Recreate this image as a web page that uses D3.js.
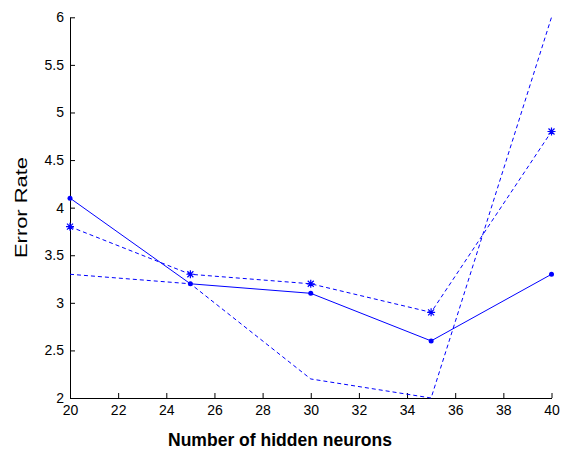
<!DOCTYPE html>
<html>
<head>
<meta charset="utf-8">
<script src="https://cdn.jsdelivr.net/npm/d3@7"></script>
<style>
	body { margin: 0; background: #fff; }
	svg { display: block; }
</style>
</head>
<body>
<svg id="chart" width="562" height="451"></svg>
<script>
// hidden neuron counts on the x axis
neurons = [20, 25, 30, 35, 40];
// error rate for each run
errSolid = [4.1, 3.2, 3.1, 2.6, 3.3];
errStar = [3.8, 3.3, 3.2, 2.9, 4.8];
errPlain = [3.3, 3.2, 2.2, 2.0, 6.0];

xTicks = [20, 22, 24, 26, 28, 30, 32, 34, 36, 38, 40];
yTicks = [2, 2.5, 3, 3.5, 4, 4.5, 5, 5.5, 6];

width = 562;
height = 451;
left = 70;
right = 551.5;
top_y = 17.3;
bottom_y = 398;
blue = '#0000ff';
tickFont = '"Liberation Sans", Arial, sans-serif';

svg = d3.select('#chart');

x = d3.scaleLinear().domain([20, 40]).range([left, right]);
y = d3.scaleLinear().domain([2, 6]).range([bottom_y, top_y]);

xAxis = svg.append('g')
	.attr('transform', `translate(0, ${bottom_y})`)
	.call(d3.axisBottom(x).tickValues(xTicks).tickSizeInner(-5).tickSizeOuter(0).tickPadding(7));
yAxis = svg.append('g')
	.attr('transform', `translate(${left}, 0)`)
	.call(d3.axisLeft(y).tickValues(yTicks).tickFormat(d3.format('')).tickSizeInner(-5).tickSizeOuter(0).tickPadding(6));

[xAxis, yAxis].forEach(function(a){
	a.attr('font-family', tickFont).attr('font-size', 14);
	a.selectAll('text').attr('fill', '#000');
	a.selectAll('line, path').attr('stroke', '#000');
});

// lines, all blue, two of them dashed
line = d3.line().x((d, i) => x(neurons[i])).y(d => y(d));

svg.append('path')
	.attr('d', line(errPlain))
	.attr('fill', 'none')
	.attr('stroke', blue)
	.attr('stroke-width', 1)
	.attr('stroke-dasharray', '4,3');

svg.append('path')
	.attr('d', line(errStar))
	.attr('fill', 'none')
	.attr('stroke', blue)
	.attr('stroke-width', 1)
	.attr('stroke-dasharray', '4,3');

svg.append('path')
	.attr('d', line(errSolid))
	.attr('fill', 'none')
	.attr('stroke', blue)
	.attr('stroke-width', 1);

// dot markers
svg.append('g').selectAll('circle')
	.data(errSolid)
	.join('circle')
		.attr('cx', (d, i) => x(neurons[i]))
		.attr('cy', d => y(d))
		.attr('r', 2.5)
		.attr('fill', blue);

// star markers: plus and cross
starG = svg.append('g').selectAll('g')
	.data(errStar)
	.join('g')
		.attr('transform', (d, i) => `translate(${x(neurons[i])}, ${y(d)})`);
starG.append('path')
	.attr('d', 'M-4,0H4M0,-4V4M-3,-3L3,3M-3,3L3,-3')
	.attr('stroke', blue)
	.attr('stroke-width', 1.2)
	.attr('fill', 'none');

// axis titles
svg.append('text')
	.attr('x', 280)
	.attr('y', 446)
	.attr('text-anchor', 'middle')
	.attr('font-family', tickFont)
	.attr('font-weight', 'bold')
	.attr('font-size', 18)
	.attr('textLength', 224)
	.attr('lengthAdjust', 'spacingAndGlyphs')
	.text('Number of hidden neurons');

svg.append('text')
	.attr('transform', 'translate(27, 207.5) rotate(-90)')
	.attr('text-anchor', 'middle')
	.attr('font-family', tickFont)
	.attr('font-size', 17)
	.attr('textLength', 101)
	.attr('lengthAdjust', 'spacingAndGlyphs')
	.text('Error Rate');
</script>
</body>
</html>
